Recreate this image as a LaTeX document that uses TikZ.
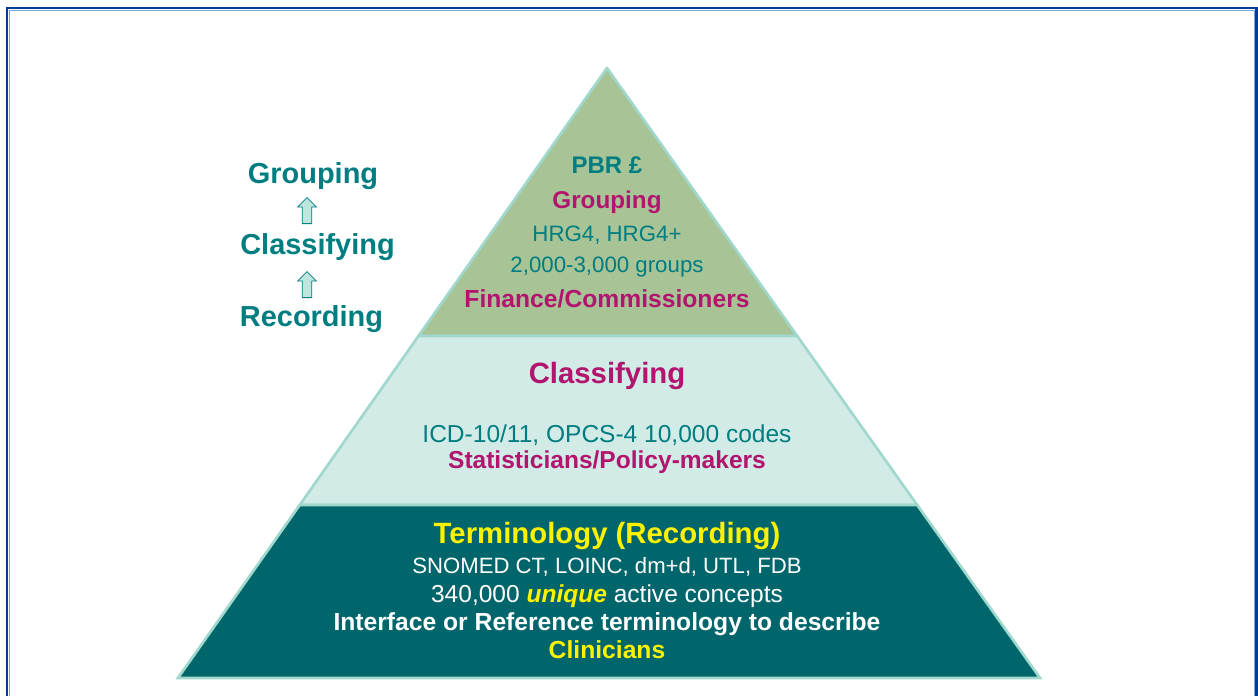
\documentclass[tikz,border=0pt]{standalone}
\usepackage{fontspec}
\setmainfont{Liberation Sans}
\usepackage{tikz}
\usetikzlibrary{shapes.arrows}
\usepackage{xcolor}

\definecolor{frameblue}{RGB}{0,61,153}
\definecolor{framelight}{RGB}{125,165,220}
\definecolor{tealtext}{RGB}{0,125,128}
\definecolor{magtext}{RGB}{178,20,110}
\definecolor{tiertop}{RGB}{168,196,151}
\definecolor{tiermid}{RGB}{210,235,230}
\definecolor{tierlow}{RGB}{0,102,107}
\definecolor{tieredge}{RGB}{160,216,206}
\definecolor{arrowfill}{RGB}{190,230,222}

\tikzset{
  txt/.style={anchor=base, inner sep=0.75pt},
  upbox/.style={single arrow, shape border rotate=90, draw=tealtext, fill=arrowfill,
    line width=0.6pt, minimum height=19.5pt, minimum width=14pt,
    single arrow head extend=3.5pt, inner sep=3.3pt, text height=0pt, text depth=0pt},
}

\begin{document}
\begin{tikzpicture}[x=0.75pt,y=0.75pt,yscale=-1,xscale=1]
\useasboundingbox (0,0) rectangle (1258,696);

%Shape: Frame
\draw [color=frameblue, line width=2pt] (7,8) rectangle (1256.8,720);
\draw [color=framelight, line width=0.8pt] (9.6,10.6) rectangle (1254.6,720);

%Shape: Triangle (top tier)
\draw [fill=tiertop, draw=tieredge, line width=2pt, line join=round] (607,68) -- (418.5,336) -- (797.2,336) -- cycle;
%Shape: Trapezoid (middle tier)
\draw [fill=tiermid, draw=tieredge, line width=2pt] (418.5,336) -- (797.2,336) -- (917.2,505) -- (299.7,505) -- cycle;
%Shape: Trapezoid (bottom tier)
\draw [fill=tierlow, draw=tieredge, line width=2pt] (299.7,505) -- (917.2,505) -- (1040,678) -- (178,678) -- cycle;

% Text Node
\node (lgrp) [txt, color=tealtext, font=\fontsize{21.7}{26}\selectfont\bfseries] at (313,183) {Grouping};
% Text Node
\node (lcls) [txt, color=tealtext, font=\fontsize{21.7}{26}\selectfont\bfseries] at (317.5,254) {Classifying};
% Text Node
\node (lrec) [txt, color=tealtext, font=\fontsize{21.7}{26}\selectfont\bfseries] at (311.5,326) {Recording};
%Shape: Up Arrows
\node (upa) [upbox] at (307,213) {};
\node (upb) [upbox] at (307,287) {};

% Text Node
\node (pbr) [txt, color=tealtext, font=\fontsize{18}{22}\selectfont\bfseries] at (607,173) {PBR £};
% Text Node
\node (tgrp) [txt, color=magtext, font=\fontsize{18.2}{22}\selectfont\bfseries] at (607,208) {Grouping};
% Text Node
\node (hrg) [txt, color=tealtext, font=\fontsize{16.7}{20}\selectfont] at (607,241) {HRG4, HRG4+};
% Text Node
\node (grps) [txt, color=tealtext, font=\fontsize{16.7}{20}\selectfont] at (607,272) {2,000-3,000 groups};
% Text Node
\node (fin) [txt, color=magtext, font=\fontsize{18.5}{22}\selectfont\bfseries] at (607,307) {Finance/Commissioners};

% Text Node
\node (mcls) [txt, color=magtext, font=\fontsize{22}{26}\selectfont\bfseries] at (607,383) {Classifying};
% Text Node
\node (icd) [txt, color=tealtext, font=\fontsize{18.4}{22}\selectfont] at (607,442) {ICD-10/11, OPCS-4 10,000 codes};
% Text Node
\node (stat) [txt, color=magtext, font=\fontsize{18.4}{22}\selectfont\bfseries] at (607,468) {Statisticians/Policy-makers};

% Text Node
\node (term) [txt, color=yellow, font=\fontsize{22}{26}\selectfont\bfseries] at (607,543) {Terminology (Recording)};
% Text Node
\node (snom) [txt, color=white, font=\fontsize{16.6}{20}\selectfont] at (607,573) {SNOMED CT, LOINC, dm+d, UTL, FDB};
% Text Node
\node (uniq) [txt, color=white, font=\fontsize{18.4}{22}\selectfont] at (607,602) {340,000 {\color{yellow}\bfseries\itshape unique} active concepts};
% Text Node
\node (ifc) [txt, color=white, font=\fontsize{18.5}{22}\selectfont\bfseries] at (607,630) {Interface or Reference terminology to describe};
% Text Node
\node (clin) [txt, color=yellow, font=\fontsize{18.5}{22}\selectfont\bfseries] at (607,658) {Clinicians};

\end{tikzpicture}
\end{document}
